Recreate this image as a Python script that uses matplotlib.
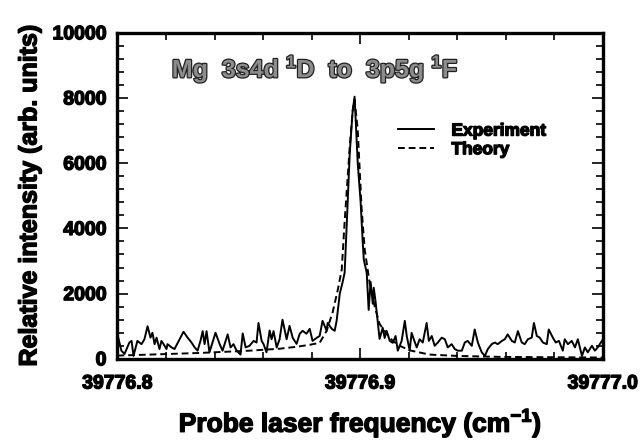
import numpy as np
import matplotlib
matplotlib.use("Agg")
import matplotlib.pyplot as plt
import matplotlib.patheffects as pe
from matplotlib.ticker import MultipleLocator

# frequencies are given as offsets from 39776.8 cm-1, in units of 1e-3 cm-1
base_freq = 39776.8

exp_offset = [0, 1.6, 2.9, 4.9, 5.8, 6.6, 8.2, 9.9, 11.1, 12.4,
              13.6, 14.4, 15.3, 16.1, 17.3, 18.1, 19.0, 20.2, 20.6, 22.3,
              23.5, 25.6, 27.2, 28.9, 30.5, 31.8, 33.0, 34.2, 35.1, 35.9,
              36.7, 37.9, 40.4, 42.1, 43.3, 45.4, 46.6, 47.8, 49.1, 50.7,
              51.6, 52.8, 54.4, 56.1, 57.3, 58.1, 59.4, 60.2, 61.4, 62.7,
              63.5, 64.3, 65.6, 66.8, 68.0, 69.7, 70.9, 72.2, 73.8, 75.1,
              76.3, 77.9, 79.2, 80.4, 82.1, 83.3, 84.5, 86.2, 86.6, 88.3,
              89.5, 90.3, 91.6, 92.8, 93.6, 94.4, 95.7, 96.9, 97.7, 99.0,
              100.2, 101.0, 101.5, 102.7, 103.5, 104.3, 105.2, 105.6, 106.4, 107.2,
              108.0, 109.3, 110.1, 110.9, 112.2, 113.4, 114.6, 115.5, 117.1, 118.4,
              119.2, 120.4, 121.2, 122.1, 123.3, 124.5, 125.8, 127.4, 128.3, 129.5,
              130.7, 132.0, 133.6, 134.9, 136.1, 137.7, 139.0, 140.2, 141.9, 143.1,
              144.3, 146.0, 147.2, 148.5, 150.1, 151.4, 152.6, 154.2, 155.5, 156.7,
              158.4, 159.6, 160.8, 162.5, 163.7, 165.0, 166.6, 167.8, 169.1, 170.7,
              171.6, 172.8, 174.0, 175.3, 176.9, 177.7, 179.4, 180.6, 181.9, 183.5,
              184.3, 185.6, 187.2, 188.5, 189.7, 191.4, 192.6, 193.8, 195.5, 196.7,
              197.9, 199.6]
exp_intensity = [750, 250, 150, 500, 550, 90, 550, 450, 600, 1000,
                 650, 800, 450, 650, 300, 550, 450, 300, 450, 350,
                 300, 600, 830, 650, 500, 350, 250, 550, 850, 450,
                 850, 200, 800, 450, 250, 750, 350, 450, 250, 130,
                 780, 350, 400, 550, 500, 1100, 550, 450, 200, 870,
                 600, 850, 350, 600, 1200, 600, 1010, 645, 460, 770,
                 860, 770, 920, 550, 645, 700, 1165, 860, 1100, 920,
                 860, 1165, 2000, 2360, 2640, 4000, 6300, 7600, 8040, 6000,
                 4800, 3650, 3040, 2640, 1500, 2360, 1690, 2180, 1720, 1165,
                 610, 950, 640, 860, 550, 490, 700, 250, 550, 1165,
                 700, 250, 800, 600, 350, 600, 500, 1100, 550, 700,
                 400, 500, 650, 600, 350, 450, 300, 250, 250, 500,
                 550, 400, 900, 500, 200, 90, 300, 450, 500, 450,
                 550, 600, 750, 550, 500, 850, 500, 450, 600, 650,
                 1100, 700, 650, 500, 450, 900, 650, 500, 550, 250,
                 600, 450, 550, 350, 600, 90, 350, 200, 400, 250,
                 350, 550]

theory_offset = [0, 13.2, 33.8, 54.4, 66.8, 73.8, 79.2, 83.3, 86.2, 88.7,
                 90.7, 92.4, 93.6, 95.7, 96.9, 97.7, 99.0, 100.6, 101.9, 103.9,
                 106.0, 108.0, 110.9, 113.4, 116.3, 120.4, 128.6, 139.8, 157.5, 178.1,
                 200]
theory_intensity = [100, 130, 180, 250, 310, 370, 430, 490, 860, 1440,
                    2090, 2730, 4200, 6500, 7600, 7950, 7020, 4600, 3340, 2330,
                    1600, 1070, 770, 550, 400, 260, 130, 90, 60, 50,
                    40]

exp_freq = base_freq + np.array(exp_offset) / 1000.0
theory_freq = base_freq + np.array(theory_offset) / 1000.0

plt.rcParams['font.family'] = ['Liberation Sans', 'DejaVu Sans']
plt.rcParams['font.weight'] = 'bold'
plt.rcParams['mathtext.fontset'] = 'custom'
plt.rcParams['mathtext.rm'] = 'Liberation Sans:bold'
plt.rcParams['mathtext.bf'] = 'Liberation Sans:bold'

fig = plt.figure(figsize=(6.42, 4.43), dpi=100)
ax = fig.add_axes([0.183, 0.19, 0.756, 0.736])

heavy = [pe.withStroke(linewidth=1.0, foreground='black')]

ax.plot(exp_freq, exp_intensity, color='black', lw=1.4, label='Experiment')
ax.plot(theory_freq, theory_intensity, color='black', lw=1.4, ls=(0, (3.5, 2)),
        label='Theory')

ax.set_xlim(39776.8, 39777.0)
ax.set_ylim(0, 10000)
ax.set_xticks([39776.8, 39776.9, 39777.0])
ax.set_xticklabels(['39776.8', '39776.9', '39777.0'])
ax.xaxis.set_minor_locator(MultipleLocator(0.02))
ax.set_yticks([0, 2000, 4000, 6000, 8000, 10000])
ax.yaxis.set_minor_locator(MultipleLocator(400))

ax.tick_params(which='both', direction='in', top=True, right=True, width=1.2)
ax.tick_params(which='major', length=8, labelsize=14)
ax.tick_params(axis='x', which='major', pad=12)
ax.tick_params(axis='y', which='major', pad=8)
ax.tick_params(which='minor', length=5)
for lab in ax.get_xticklabels() + ax.get_yticklabels():
    lab.set_fontweight('bold')
    lab.set_path_effects(heavy)

for sp in ax.spines.values():
    sp.set_linewidth(2.4)

ax.set_xlabel('Probe laser frequency (cm$^{-1}$)', fontsize=19, fontweight='bold',
              labelpad=10, path_effects=heavy)
ax.set_ylabel('Relative intensity (arb. units)', fontsize=18, fontweight='bold',
              labelpad=8, path_effects=heavy)

ax.text(0.112, 0.89, 'Mg  3s4d $^1$D  to  3p5g $^1$F', transform=ax.transAxes,
        fontsize=18, fontweight='bold', color='#8c8c8c', va='center', ha='left',
        path_effects=[pe.withStroke(linewidth=1.8, foreground='#222222')])

leg = ax.legend(loc='upper left', bbox_to_anchor=(0.545, 0.77), frameon=False,
                handlelength=2.1, handletextpad=1.0, labelspacing=0.2,
                prop={'weight': 'bold', 'size': 12.5})
for t in leg.get_texts():
    t.set_path_effects(heavy)

fig.savefig('out.png', dpi=100)
